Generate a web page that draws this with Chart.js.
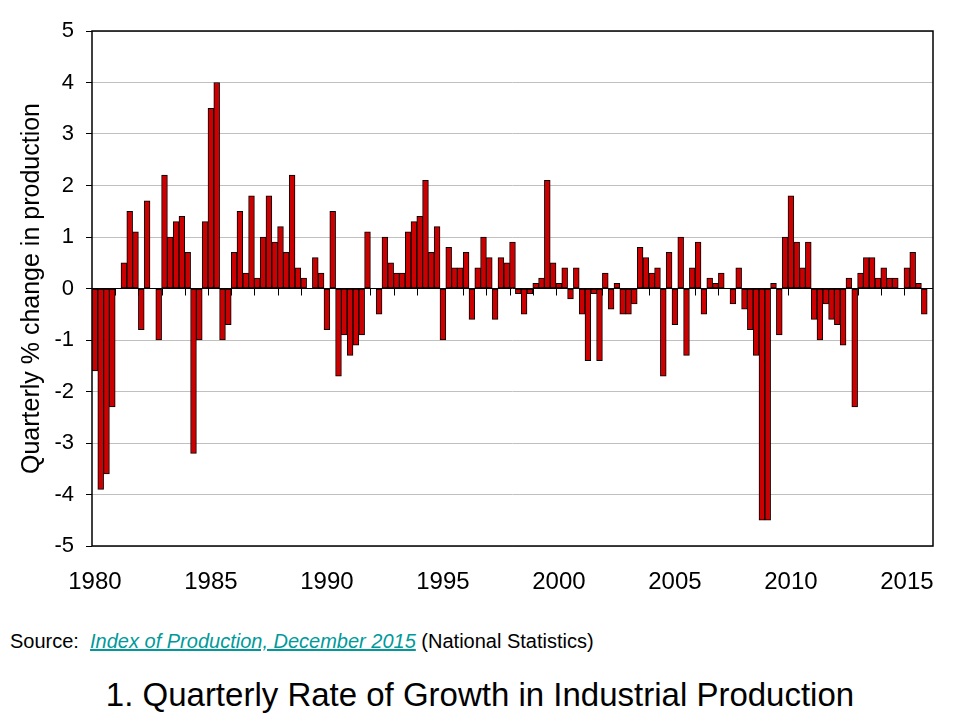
<!DOCTYPE html>
<html>
<head>
<meta charset="utf-8">
<script src="https://cdn.jsdelivr.net/npm/chart.js@4"></script>
<style>
  html, body { margin: 0; padding: 0; background: #fff; }
  body { width: 960px; height: 720px; position: relative; overflow: hidden; font-family: 'Liberation Sans', Arial, sans-serif; }
  #wrap { position: absolute; left: 0; top: 0; width: 960px; height: 610px; }
  #source { position: absolute; left: 10px; top: 629px; font-size: 20px; line-height: 24px; color: #000; white-space: nowrap; }
  #source a { color: #009999; font-style: italic; text-decoration: underline; }
  #title { position: absolute; left: 0; top: 676px; width: 960px; text-align: center; font-size: 33px; color: #000; white-space: nowrap; }
</style>
</head>
<body>
<div id="wrap"><canvas id="c" width="960" height="610"></canvas></div>
<div id="source">Source:&nbsp; <a>Index of Production, December 2015</a> (National Statistics)</div>
<div id="title">1. Quarterly Rate of Growth in Industrial Production</div>
<script>
// Years on the axis (last year only supplies an empty trailing slot)
const years = [1980, 1981, 1982, 1983, 1984, 1985, 1986, 1987, 1988, 1989,
               1990, 1991, 1992, 1993, 1994, 1995, 1996, 1997, 1998, 1999,
               2000, 2001, 2002, 2003, 2004, 2005, 2006, 2007, 2008, 2009,
               2010, 2011, 2012, 2013, 2014, 2015, 2016];
const quarters = ['Q1', 'Q2', 'Q3', 'Q4'];
const tickYears = ['1980', '1985', '1990', '1995', '2000', '2005', '2010', '2015'];

// Quarterly % change in production, 1980 Q1 .. 2015 Q4
const growth = [
  -1.6, -3.9, -3.6, -2.3,   // 1980
   0.0,  0.5,  1.5,  1.1,   // 1981
  -0.8,  1.7,  0.0, -1.0,   // 1982
   2.2,  1.0,  1.3,  1.4,   // 1983
   0.7, -3.2, -1.0,  1.3,   // 1984
   3.5,  4.0, -1.0, -0.7,   // 1985
   0.7,  1.5,  0.3,  1.8,   // 1986
   0.2,  1.0,  1.8,  0.9,   // 1987
   1.2,  0.7,  2.2,  0.4,   // 1988
   0.2,  0.0,  0.6,  0.3,   // 1989
  -0.8,  1.5, -1.7, -0.9,   // 1990
  -1.3, -1.1, -0.9,  1.1,   // 1991
   0.0, -0.5,  1.0,  0.5,   // 1992
   0.3,  0.3,  1.1,  1.3,   // 1993
   1.4,  2.1,  0.7,  1.2,   // 1994
  -1.0,  0.8,  0.4,  0.4,   // 1995
   0.7, -0.6,  0.4,  1.0,   // 1996
   0.6, -0.6,  0.6,  0.5,   // 1997
   0.9, -0.1, -0.5, -0.1,   // 1998
   0.1,  0.2,  2.1,  0.5,   // 1999
   0.1,  0.4, -0.2,  0.4,   // 2000
  -0.5, -1.4, -0.1, -1.4,   // 2001
   0.3, -0.4,  0.1, -0.5,   // 2002
  -0.5, -0.3,  0.8,  0.6,   // 2003
   0.3,  0.4, -1.7,  0.7,   // 2004
  -0.7,  1.0, -1.3,  0.4,   // 2005
   0.9, -0.5,  0.2,  0.1,   // 2006
   0.3,  0.0, -0.3,  0.4,   // 2007
  -0.4, -0.8, -1.3, -4.5,   // 2008
  -4.5,  0.1, -0.9,  1.0,   // 2009
   1.8,  0.9,  0.4,  0.9,   // 2010
  -0.6, -1.0, -0.3, -0.6,   // 2011
  -0.7, -1.1,  0.2, -2.3,   // 2012
   0.3,  0.6,  0.6,  0.2,   // 2013
   0.4,  0.2,  0.2,  0.0,   // 2014
   0.4,  0.7,  0.1, -0.5    // 2015
];

const labels = [];
years.forEach(y => quarters.forEach(q => labels.push(y + ' ' + q)));
labels.length = growth.length + 1; // one empty slot after 2015 Q4

const FONT = "'Liberation Sans', Arial, sans-serif";

const frameAndYearTicks = {
  id: 'frameAndYearTicks',
  beforeDatasetsDraw(chart) {
    const {ctx, scales: {x, y}} = chart;
    const half = (x.getPixelForValue(1) - x.getPixelForValue(0)) / 2;
    const y0 = y.getPixelForValue(0);
    ctx.save();
    ctx.strokeStyle = '#000';
    ctx.lineWidth = 1;
    ctx.beginPath();
    labels.forEach((lab, i) => {
      if (i > 0 && i < growth.length && lab.endsWith('Q1')) {
        const px = Math.round(x.getPixelForValue(i) - half) + 0.5;
        ctx.moveTo(px, y0);
        ctx.lineTo(px, y0 + 7);
      }
    });
    ctx.stroke();
    ctx.restore();
  },
  afterDraw(chart) {
    const {ctx, chartArea: a} = chart;
    ctx.save();
    ctx.strokeStyle = '#000';
    ctx.lineWidth = 1.5;
    ctx.strokeRect(a.left, a.top, a.right - a.left, a.bottom - a.top);
    ctx.restore();
  }
};

new Chart(document.getElementById('c'), {
  type: 'bar',
  data: {
    labels: labels,
    datasets: [{
      data: growth,
      backgroundColor: '#CC0000',
      borderColor: '#000000',
      borderWidth: 1,
      borderSkipped: false,
      barPercentage: 1.0,
      categoryPercentage: 1.0
    }]
  },
  options: {
    responsive: false,
    animation: false,
    devicePixelRatio: 1,
    layout: { padding: { left: 0, top: 31, right: 27, bottom: 0 } },
    plugins: { legend: { display: false }, tooltip: { enabled: false } },
    scales: {
      x: {
        grid: { display: false },
        border: { display: false },
        afterFit(s) { s.height = 64; },
        ticks: {
          autoSkip: false,
          maxRotation: 0,
          minRotation: 0,
          padding: 14,
          color: '#000',
          font: { family: FONT, size: 24 },
          callback(v, i) {
            const lab = labels[i] || '';
            const yr = lab.slice(0, 4);
            return (lab.endsWith('Q1') && tickYears.includes(yr) && i < growth.length) ? yr : '';
          }
        }
      },
      y: {
        min: -5,
        max: 5,
        afterFit(s) { s.width = 92; },
        border: { display: false },
        grid: {
          color: c => (c.tick && c.tick.value === 0) ? '#000000' : '#C0C0C0',
          lineWidth: 1,
          drawTicks: true,
          tickLength: 6,
          tickColor: '#000000'
        },
        ticks: {
          stepSize: 1,
          padding: 12,
          color: '#000',
          font: { family: FONT, size: 22 }
        },
        title: {
          display: true,
          text: 'Quarterly % change in production',
          color: '#000',
          font: { family: FONT, size: 25 },
          padding: { top: 17, bottom: 0 }
        }
      }
    }
  },
  plugins: [frameAndYearTicks]
});
</script>
</body>
</html>
